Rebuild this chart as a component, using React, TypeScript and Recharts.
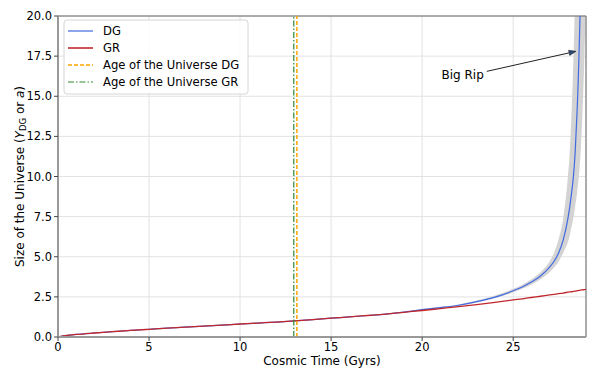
import { Area, CartesianGrid, ComposedChart, Line, ReferenceLine, XAxis, YAxis } from 'recharts'

// cosmic time grid (Gyrs), denser near the big rip
const cosmicTime = [
  0, 0.5, 1, 2, 3, 4, 5, 6, 7, 8, 9, 10, 11, 12, 13, 14, 15, 16, 17, 18, 19, 20, 21, 22, 23, 24, 25,
  25.5, 26, 26.5, 27, 27.25, 27.5, 27.75, 28, 28.1, 28.2, 28.3, 28.4, 28.5, 28.55, 28.6, 28.65, 28.7, 28.75,
  28.8, 28.9, 29,
]
const grSize = [
  0, 0.1, 0.16, 0.25, 0.33, 0.41, 0.48, 0.55, 0.61, 0.68, 0.74, 0.81, 0.87, 0.93, 1.0, 1.08, 1.17, 1.25, 1.34, 1.43,
  1.54, 1.65, 1.77, 1.89, 2.02, 2.16, 2.31, 2.38, 2.46, 2.54, 2.62, 2.66, 2.7, 2.74, 2.79, 2.81, 2.82, 2.84, 2.86,
  2.88, 2.89, 2.9, 2.91, 2.92, 2.93, 2.94, 2.95, 2.97,
]
const dgSize = [
  0, 0.1, 0.16, 0.25, 0.33, 0.41, 0.48, 0.55, 0.61, 0.68, 0.74, 0.81, 0.87, 0.93, 1.0, 1.08, 1.17, 1.25, 1.34, 1.43,
  1.55, 1.7, 1.83, 1.98, 2.2, 2.48, 2.88, 3.12, 3.42, 3.8, 4.36, 4.72, 5.25, 6.05, 7.35, 8.05, 8.9, 9.9, 11.4,
  13.8, 15.2, 17.0, 19.0, 21.5, 25, null, null, null,
]
const dgBandLow = [
  null, null, null, null, null, null, null, null, null, null, null, null, null, null, null, null, null, null, null,
  1.41, 1.52, 1.66, 1.79, 1.93, 2.15, 2.41, 2.78, 3.0, 3.26, 3.6, 4.04, 4.33, 4.7, 5.25, 5.9, 6.3, 6.85, 7.4, 8.1,
  8.9, 9.4, 9.9, 10.6, 11.4, 12.5, 13.8, 17.0, 21.5,
]
const dgBandHigh = [
  null, null, null, null, null, null, null, null, null, null, null, null, null, null, null, null, null, null, null,
  1.46, 1.59, 1.74, 1.87, 2.03, 2.27, 2.58, 3.0, 3.26, 3.6, 4.04, 4.7, 5.25, 6.1, 7.4, 9.9, 11.4, 13.8, 17.0, 21.5,
  30, 30, 30, 30, 30, 30, 30, 30, 30,
]

const xTicks = [0, 5, 10, 15, 20, 25]
const yTicks = [0, 2.5, 5, 7.5, 10, 12.5, 15, 17.5, 20]

const ageDG = 13.12
const ageGR = 12.95
const bigRipFrom = { x: 23.55, y: 16.55 }
const bigRipTo = { x: 28.45, y: 17.8 }

const legendItems = [
  { name: 'DG', color: '#4169e1', dash: undefined, width: 1.2 },
  { name: 'GR', color: '#c0282d', dash: undefined, width: 1.6 },
  { name: 'Age of the Universe DG', color: '#ffa500', dash: '4 2', width: 1.5 },
  { name: 'Age of the Universe GR', color: '#2e8b2e', dash: '6 2 1.5 2', width: 1.2 },
]

const font = 'DejaVu Sans'

const rows = cosmicTime.map((t, i) => ({
  t,
  gr: grSize[i],
  dg: dgSize[i],
  band: dgBandLow[i] == null ? null : [dgBandLow[i], dgBandHigh[i]],
}))

function YLabel({ viewBox }: any) {
  const cy = viewBox ? viewBox.y + viewBox.height / 2 : 168
  const x = 12
  return (
    <text x={x} y={cy} transform={`rotate(-90 ${x} ${cy})`} textAnchor="middle" dominantBaseline="central" fontSize={12} fontFamily={font} fill="#000">
      Size of the Universe (<tspan fontStyle="italic">Y</tspan>
      <tspan fontSize={8.5} dy={3}>DG</tspan>
      <tspan dy={-3}> or </tspan>
      <tspan fontStyle="italic">a</tspan>)
    </text>
  )
}

function BigRipArrow(props: any) {
  const { x1, y1, x2, y2 } = props
  const ang = Math.atan2(y2 - y1, x2 - x1)
  const len = 7
  const w = 2.6
  const bx = x2 - len * Math.cos(ang)
  const by = y2 - len * Math.sin(ang)
  const px = -Math.sin(ang) * w
  const py = Math.cos(ang) * w
  return (
    <g>
      <line x1={x1} y1={y1} x2={bx} y2={by} stroke="#222" strokeWidth={1} />
      <polygon points={`${x2},${y2} ${bx + px},${by + py} ${bx - px},${by - py}`} fill="#2a4a7a" stroke="#222" strokeWidth={0.6} />
      <text x={x1 - 3} y={y1 + 8} textAnchor="end" fontSize={12} fontFamily={font} fill="#000">
        Big Rip
      </text>
    </g>
  )
}

function LegendBox() {
  return (
    <svg width={190} height={78} style={{ position: 'absolute', left: 55, top: 11 }}>
      <rect x={1} y={1} width={184} height={74} rx={3} fill="#fff" fillOpacity={0.85} stroke="#d6d6d6" />
      {legendItems.map((it, i) => {
        const y = 12 + i * 17
        return (
          <g key={it.name}>
            <line x1={5} x2={30} y1={y} y2={y} stroke={it.color} strokeWidth={it.width} strokeDasharray={it.dash} />
            <text x={40} y={y} dominantBaseline="central" fontSize={11.6} fontFamily={font} fill="#000">
              {it.name}
            </text>
          </g>
        )
      })}
    </svg>
  )
}

export default function App() {
  return (
    <div style={{ position: 'relative', width: 584, height: 363, fontFamily: font }}>
      <ComposedChart width={584} height={363} data={rows} margin={{ top: 8, right: 6, left: 0, bottom: 0 }}>
        <CartesianGrid stroke="#e2e2e2" strokeWidth={1} />
        <XAxis
          dataKey="t"
          type="number"
          domain={[0, 29]}
          ticks={xTicks}
          allowDataOverflow
          height={34}
          tickSize={4}
          tickMargin={2}
          tick={{ fill: '#000', fontSize: 11.5, fontFamily: font }}
          tickLine={{ stroke: '#444' }}
          axisLine={{ stroke: '#999', strokeWidth: 2 }}
          label={{ value: 'Cosmic Time (Gyrs)', position: 'insideBottom', offset: 6, fill: '#000', fontSize: 12, fontFamily: font }}
        />
        <YAxis
          type="number"
          domain={[0, 20]}
          ticks={yTicks}
          allowDataOverflow
          width={50}
          tickSize={4}
          tickMargin={2}
          tickFormatter={(v: number) => v.toFixed(1)}
          tick={{ fill: '#000', fontSize: 11.5, fontFamily: font }}
          tickLine={{ stroke: '#444' }}
          axisLine={{ stroke: '#999', strokeWidth: 2 }}
          label={{ content: (p: any) => <YLabel {...p} /> }}
        />
        <ReferenceLine y={20} stroke="#666" strokeWidth={1} />
        <ReferenceLine x={29} stroke="#666" strokeWidth={1} />
        <Area
          type="monotone"
          dataKey="band"
          fill="#d3d3d3"
          fillOpacity={1}
          stroke="none"
          isAnimationActive={false}
          activeDot={false}
        />
        <Line type="monotone" dataKey="dg" stroke="#4169e1" strokeWidth={1.2} dot={false} isAnimationActive={false} />
        <Line type="monotone" dataKey="gr" stroke="#c0282d" strokeWidth={1.3} dot={false} isAnimationActive={false} />
        <ReferenceLine x={ageGR} stroke="#2e8b2e" strokeWidth={1.2} strokeDasharray="6 2 1.5 2" />
        <ReferenceLine x={ageDG} stroke="#ffa500" strokeWidth={1.5} strokeDasharray="4 2" />
        <ReferenceLine
          segment={[bigRipFrom, bigRipTo]}
          shape={(p: any) => <BigRipArrow {...p} />}
        />
      </ComposedChart>
      <LegendBox />
    </div>
  )
}
